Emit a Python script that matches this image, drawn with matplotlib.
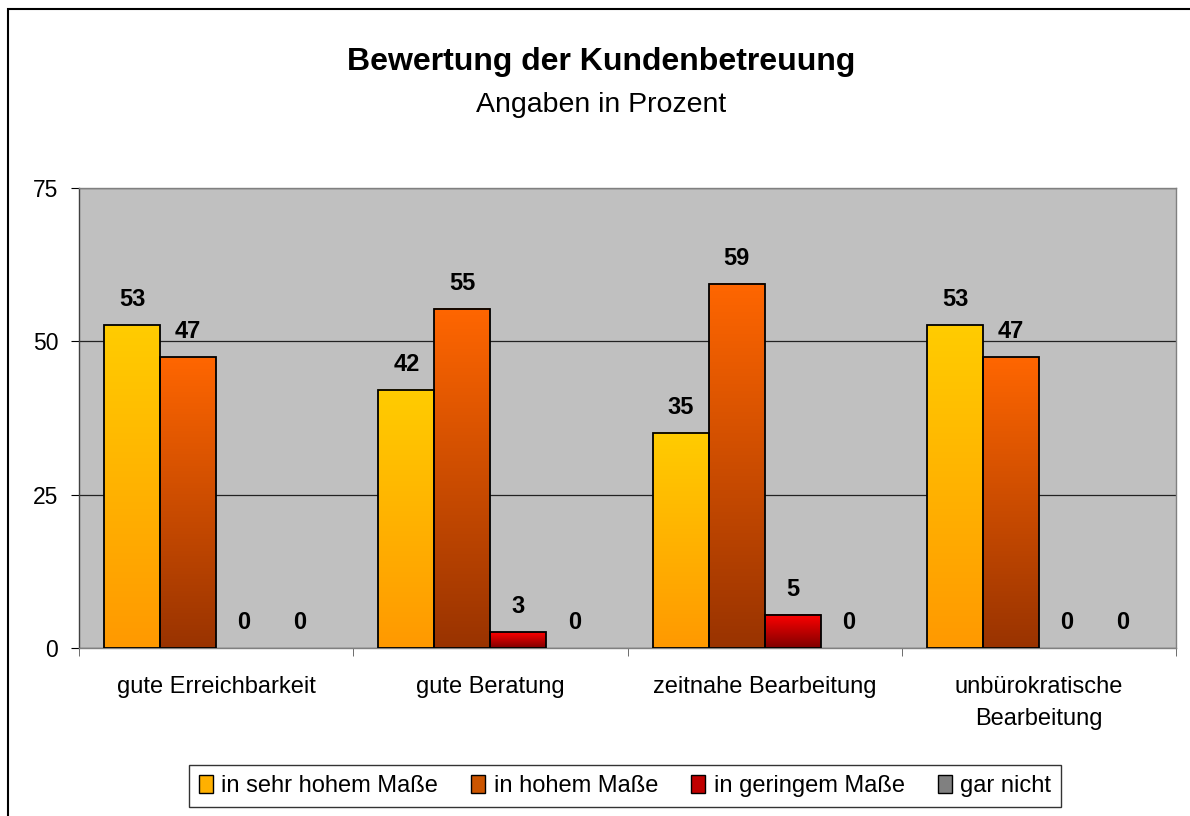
import matplotlib.pyplot as plt
import numpy as np
from matplotlib.colors import LinearSegmentedColormap
from matplotlib.patches import Patch, Rectangle

plt.rcParams['font.family'] = ['Liberation Sans', 'DejaVu Sans']

# data
categories = ['gute Erreichbarkeit', 'gute Beratung', 'zeitnahe Bearbeitung',
              'unbürokratische\nBearbeitung']
series_names = ['in sehr hohem Maße', 'in hohem Maße', 'in geringem Maße', 'gar nicht']
sehr_hoch = [52.6, 42.1, 35.1, 52.6]
hoch = [47.4, 55.3, 59.4, 47.4]
gering = [0, 2.6, 5.4, 0]
gar_nicht = [0, 0, 0, 0]
values = [sehr_hoch, hoch, gering, gar_nicht]

# gradient colours (top, bottom) per series
tops = ['#FFCC00', '#FF6600', '#FF0000', '#808080']
bottoms = ['#FF9900', '#993300', '#7F0000', '#808080']
legend_cols = ['#FFB000', '#CC5500', '#C00000', '#808080']

fig = plt.figure(figsize=(11.9, 8.16), dpi=100)
ax = fig.add_axes([79/1190, 1-648/816, (1176-79)/1190, (648-188)/816])
ax.set_facecolor('#C0C0C0')

n = len(values)
width = 0.204
x = np.arange(len(categories))
grad = np.linspace(1, 0, 256).reshape(-1, 1)

for i, vals in enumerate(values):
    pos = x + (i - (n - 1) / 2) * width
    cmap = LinearSegmentedColormap.from_list('g%d' % i, [bottoms[i], tops[i]])
    bars = ax.bar(pos, vals, width, facecolor='none', edgecolor='black',
                  linewidth=1.3, zorder=3)
    for b, v in zip(bars, vals):
        if v > 0:
            ax.imshow(grad, extent=[b.get_x(), b.get_x() + b.get_width(), 0, v],
                      aspect='auto', cmap=cmap, vmin=0, vmax=1, zorder=2)
        else:
            b.set_linewidth(0)
        ax.annotate('%d' % round(v), (b.get_x() + b.get_width() / 2, v),
                    xytext=(0, 10), textcoords='offset points',
                    ha='center', va='bottom', fontsize=17, fontweight='bold')

ax.set_xlim(-0.5, len(categories) - 0.5)
ax.set_ylim(0, 75)

ax.set_yticks([0, 25, 50, 75])
ax.tick_params(axis='y', length=6, pad=9, labelsize=16.5, color='black')
ax.yaxis.grid(True, color='#222222', linewidth=0.9, zorder=1)
ax.set_axisbelow(True)

ax.set_xticks(x)
ax.set_xticklabels(categories, fontsize=17, linespacing=1.6)
ax.tick_params(axis='x', which='major', length=0, pad=20)
ax.set_xticks(np.arange(-0.5, len(categories)), minor=True)
ax.tick_params(axis='x', which='minor', length=6, color='#555555')

for s in ax.spines.values():
    s.set_color('#808080')
    s.set_linewidth(1)
ax.spines['left'].set_color('#404040')

fig.text(0.505, 1 - 62/816, 'Bewertung der Kundenbetreuung', ha='center', va='center',
         fontsize=23, fontweight='bold')
fig.text(0.505, 1 - 105/816, 'Angaben in Prozent', ha='center', va='center', fontsize=20.5)

handles = [Patch(facecolor=c, edgecolor='black', linewidth=1) for c in legend_cols]
leg = fig.legend(handles, series_names, loc='center', bbox_to_anchor=(625/1190, 1 - 786/816),
                 ncol=4, fontsize=17, frameon=True, fancybox=False, edgecolor='black',
                 handlelength=0.6, handleheight=0.8, handletextpad=0.35, columnspacing=1.4,
                 borderpad=0.4, borderaxespad=0)
leg.get_frame().set_linewidth(1)

# outer chart border
fig.add_artist(Rectangle((8/1190, -0.05), 1.1, 1 - 9/816 + 0.05, transform=fig.transFigure,
                         fill=False, edgecolor='black', linewidth=1.5))

fig.savefig('out.png', dpi=100)
